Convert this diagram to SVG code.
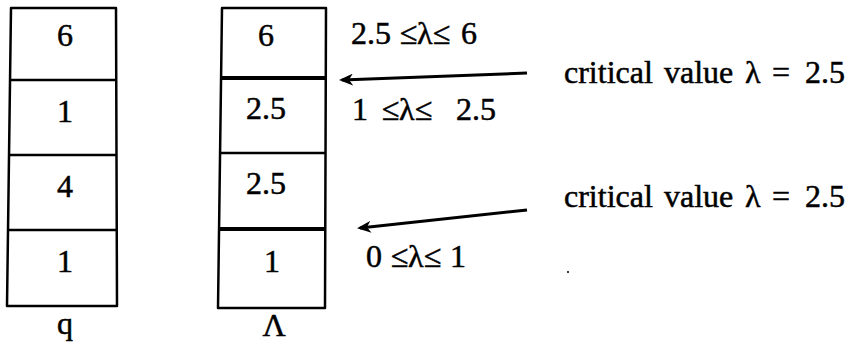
<svg xmlns="http://www.w3.org/2000/svg" width="858" height="355" viewBox="0 0 858 355">
<defs>
<style>
text{font-family:"Liberation Serif","Times New Roman",serif;font-size:32px;fill:#000;stroke:#000;stroke-width:0.5}
.c{text-anchor:middle}
.box{fill:#fff;stroke:#000;stroke-width:2.5;stroke-linejoin:round}
.div{stroke:#000;stroke-width:2.5}
.thick{stroke:#000;stroke-width:4}
.arr{stroke:#000;stroke-width:3;fill:none}
</style>
<marker id="ah" markerWidth="14" markerHeight="12" refX="11" refY="6" orient="auto" markerUnits="userSpaceOnUse">
<path d="M0,0 L14,6 L0,12 L4,6 Z" fill="#000"/>
</marker>
</defs>
<rect width="858" height="355" fill="#fff"/>
<g id="q-column">
<path class="box" d="M11,8 L116,8 L117,306 L7,306 Z"/>
<line class="div" x1="10" y1="80" x2="116" y2="80"/>
<line class="div" x1="9" y1="155" x2="117" y2="155"/>
<line class="div" x1="8" y1="230" x2="117" y2="230"/>
<text class="c" x="65" y="46">6</text>
<text class="c" x="65" y="122">1</text>
<text class="c" x="65" y="197">4</text>
<text class="c" x="65" y="272">1</text>
<text class="c" x="65" y="334">q</text>
</g>
<g id="lambda-column">
<path class="box" d="M222,8 L326,8 L325,308 L218,308 Z"/>
<line class="thick" x1="221" y1="78" x2="326" y2="78"/>
<line class="div" x1="220" y1="153" x2="326" y2="153"/>
<line class="thick" x1="219" y1="229" x2="325" y2="229"/>
<text class="c" x="266" y="46">6</text>
<text class="c" x="266" y="119">2.5</text>
<text class="c" x="266" y="194">2.5</text>
<text class="c" x="272" y="272">1</text>
<text class="c" x="274" y="336">Λ</text>
</g>
<g id="ranges">
<text x="351" y="44">2.5<tspan x="400">≤</tspan><tspan x="417">λ</tspan><tspan x="433">≤</tspan><tspan x="461">6</tspan></text>
<text x="352" y="120">1<tspan x="382">≤</tspan><tspan x="399">λ</tspan><tspan x="415">≤</tspan><tspan x="456">2.5</tspan></text>
<text x="366" y="267">0<tspan x="391">≤</tspan><tspan x="408">λ</tspan><tspan x="424">≤</tspan><tspan x="450">1</tspan></text>
</g>
<g id="labels">
<text x="564" y="83">critical<tspan x="664">value</tspan><tspan x="745">λ</tspan><tspan x="772">=</tspan><tspan x="805">2.5</tspan></text>
<text x="564" y="207">critical<tspan x="664">value</tspan><tspan x="745">λ</tspan><tspan x="772">=</tspan><tspan x="805">2.5</tspan></text>
<circle cx="568" cy="272" r="1" fill="#000"/>
</g>
<g id="connectors">
<line class="arr" x1="527" y1="73" x2="342" y2="80" marker-end="url(#ah)"/>
<line class="arr" x1="527" y1="210" x2="360" y2="228" marker-end="url(#ah)"/>
</g>
</svg>
